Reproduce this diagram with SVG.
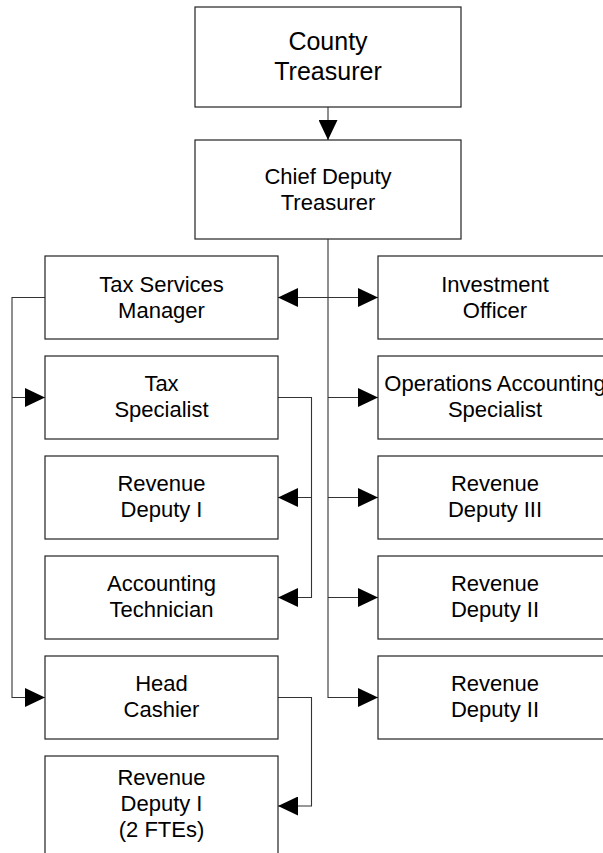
<svg xmlns="http://www.w3.org/2000/svg" width="603" height="853" viewBox="0 0 603 853">
<defs>
<style>
.box{fill:#fff;stroke:#222;stroke-width:1.2}
.t{font-family:"Liberation Sans",Arial,sans-serif;font-size:22px;fill:#000;text-anchor:middle}
.big{font-size:25px}
.c{fill:none;stroke:#333;stroke-width:1.1}
</style>
<marker id="ah" viewBox="0 0 20 19" refX="20" refY="9.5" markerWidth="20" markerHeight="19" markerUnits="userSpaceOnUse" orient="auto">
<path d="M0,0 L20,9.5 L0,19 Z" fill="#000"/>
</marker>
</defs>
<rect width="603" height="853" fill="#fff"/>
<g id="connectors">
<path class="c" d="M328,107 V140" marker-end="url(#ah)"/>
<path class="c" d="M328,239 V697.5 H378" marker-end="url(#ah)"/>
<path class="c" d="M328,297.5 H278" marker-end="url(#ah)"/>
<path class="c" d="M328,297.5 H378" marker-end="url(#ah)"/>
<path class="c" d="M328,397.5 H378" marker-end="url(#ah)"/>
<path class="c" d="M328,497.5 H378" marker-end="url(#ah)"/>
<path class="c" d="M328,597.5 H378" marker-end="url(#ah)"/>
<path class="c" d="M45,297.5 H12 V697.5 H45" marker-end="url(#ah)"/>
<path class="c" d="M12,397.5 H45" marker-end="url(#ah)"/>
<path class="c" d="M278,397.5 H311.5 V597.5 H278" marker-end="url(#ah)"/>
<path class="c" d="M311.5,497.5 H278" marker-end="url(#ah)"/>
<path class="c" d="M278,697.5 H311.5 V806 H278" marker-end="url(#ah)"/>
</g>
<g id="county-treasurer">
<rect class="box" x="195" y="7" width="266" height="100"/>
<text class="t big" x="328" y="49.5">County</text>
<text class="t big" x="328" y="79.5">Treasurer</text>
</g>
<g id="chief-deputy">
<rect class="box" x="195" y="140" width="266" height="99"/>
<text class="t" x="328" y="183.5">Chief Deputy</text>
<text class="t" x="328" y="209.5">Treasurer</text>
</g>
<g id="tax-services-manager">
<rect class="box" x="45" y="256" width="233" height="83"/>
<text class="t" x="161.5" y="291.5">Tax Services</text>
<text class="t" x="161.5" y="317.5">Manager</text>
</g>
<g id="tax-specialist">
<rect class="box" x="45" y="356" width="233" height="83"/>
<text class="t" x="161.5" y="391">Tax</text>
<text class="t" x="161.5" y="417">Specialist</text>
</g>
<g id="revenue-deputy-i">
<rect class="box" x="45" y="456" width="233" height="83"/>
<text class="t" x="161.5" y="491">Revenue</text>
<text class="t" x="161.5" y="517">Deputy I</text>
</g>
<g id="accounting-technician">
<rect class="box" x="45" y="556" width="233" height="83"/>
<text class="t" x="161.5" y="591">Accounting</text>
<text class="t" x="161.5" y="617">Technician</text>
</g>
<g id="head-cashier">
<rect class="box" x="45" y="656" width="233" height="83"/>
<text class="t" x="161.5" y="691">Head</text>
<text class="t" x="161.5" y="717">Cashier</text>
</g>
<g id="revenue-deputy-i-2ftes">
<rect class="box" x="45" y="756" width="233" height="100"/>
<text class="t" x="161.5" y="785">Revenue</text>
<text class="t" x="161.5" y="811">Deputy I</text>
<text class="t" x="161.5" y="837">(2 FTEs)</text>
</g>
<g id="investment-officer">
<rect class="box" x="378" y="256" width="234" height="83"/>
<text class="t" x="495" y="291.5">Investment</text>
<text class="t" x="495" y="317.5">Officer</text>
</g>
<g id="operations-accounting-specialist">
<rect class="box" x="378" y="356" width="234" height="83"/>
<text class="t" x="495" y="391">Operations Accounting</text>
<text class="t" x="495" y="417">Specialist</text>
</g>
<g id="revenue-deputy-iii">
<rect class="box" x="378" y="456" width="234" height="83"/>
<text class="t" x="495" y="491">Revenue</text>
<text class="t" x="495" y="517">Deputy III</text>
</g>
<g id="revenue-deputy-ii-a">
<rect class="box" x="378" y="556" width="234" height="83"/>
<text class="t" x="495" y="591">Revenue</text>
<text class="t" x="495" y="617">Deputy II</text>
</g>
<g id="revenue-deputy-ii-b">
<rect class="box" x="378" y="656" width="234" height="83"/>
<text class="t" x="495" y="691">Revenue</text>
<text class="t" x="495" y="717">Deputy II</text>
</g>
</svg>
